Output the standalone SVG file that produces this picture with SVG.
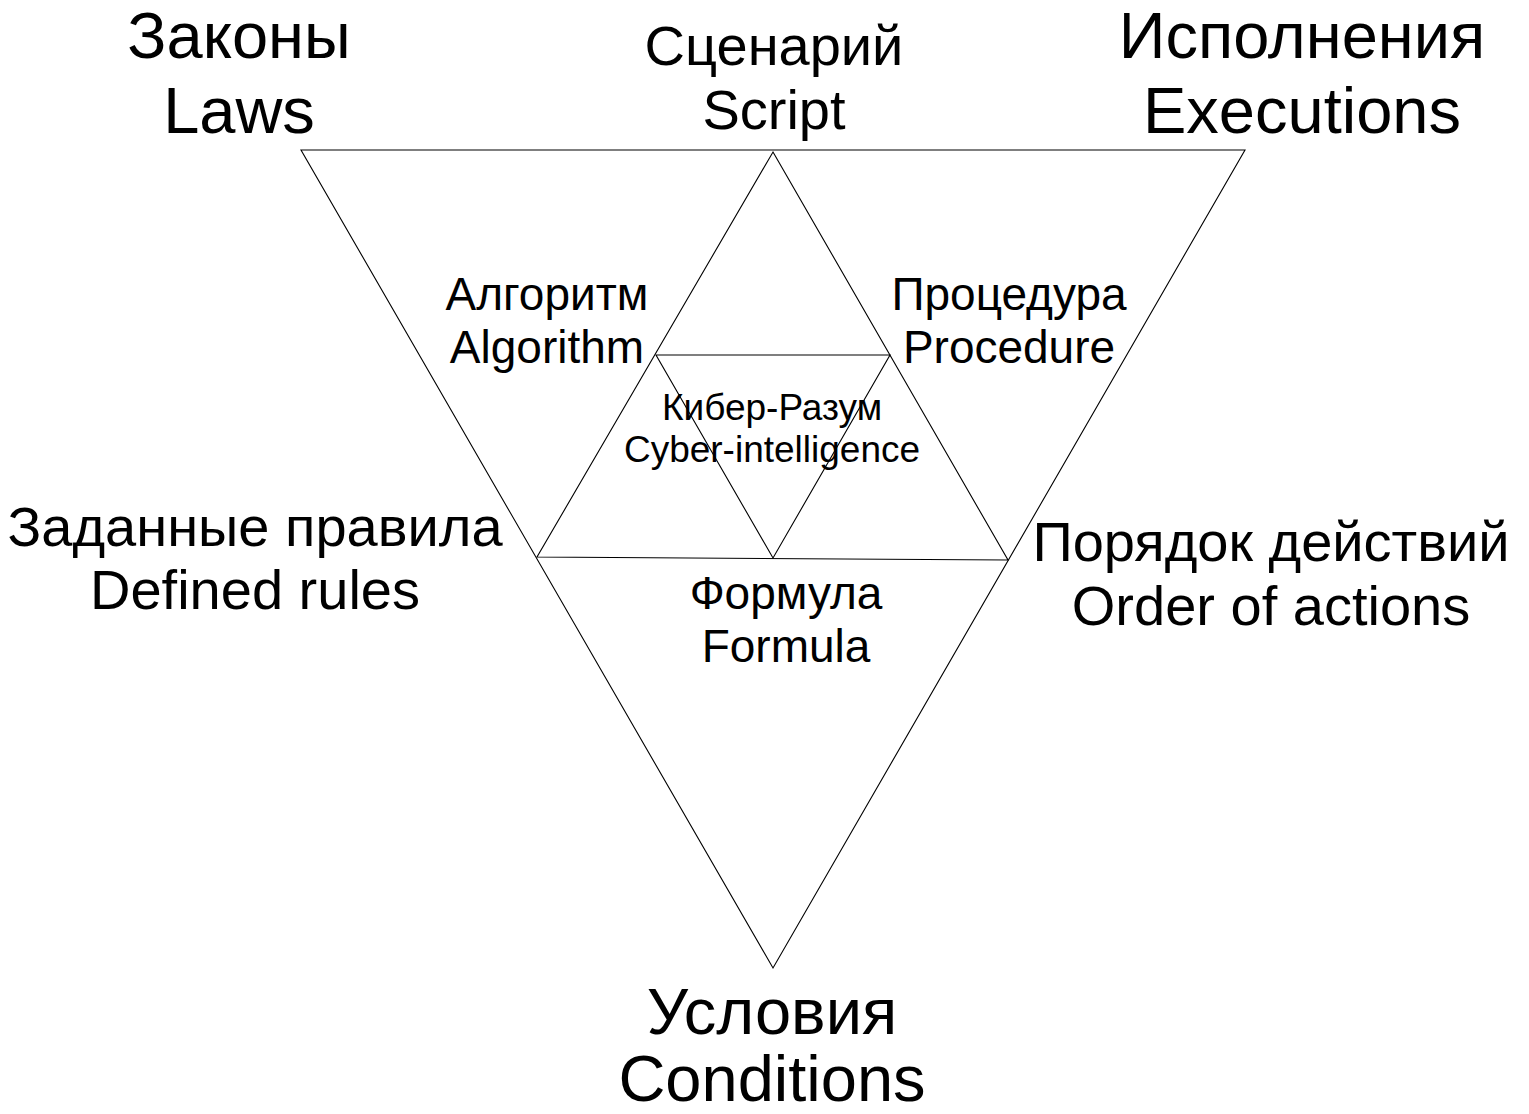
<svg xmlns="http://www.w3.org/2000/svg" width="1529" height="1114" viewBox="0 0 1529 1114">
<style>
.tri{fill:none;stroke:#000;stroke-width:1.1;stroke-linejoin:miter}
text{font-family:"Liberation Sans",Arial,sans-serif;fill:#000;text-anchor:middle}
.xl{font-size:65px}
.l{font-size:56px}
.m{font-size:46px}
.s{font-size:37px}
</style>
<rect width="1529" height="1114" fill="#fff"/>
<g id="connectors">
<polygon id="outer" class="tri" points="301,150 1245,150 773,968"/>
<polygon id="middle" class="tri" points="773,152 1008,560 537,557"/>
<polygon id="inner" class="tri" points="656,355 890,355 773,558"/>
</g>
<g id="laws"><text class="xl" x="239" y="58">Законы</text><text class="xl" x="239" y="133">Laws</text></g>
<g id="script"><text class="l" x="774" y="65">Сценарий</text><text class="l" x="774" y="129">Script</text></g>
<g id="executions"><text class="xl" x="1302" y="58">Исполнения</text><text class="xl" x="1302" y="133">Executions</text></g>
<g id="algorithm"><text class="m" x="547" y="310">Алгоритм</text><text class="m" x="547" y="363">Algorithm</text></g>
<g id="procedure"><text class="m" x="1009" y="310">Процедура</text><text class="m" x="1009" y="363">Procedure</text></g>
<g id="cyber"><text class="s" x="772" y="420">Кибер-Разум</text><text class="s" x="772" y="462">Cyber-intelligence</text></g>
<g id="rules"><text class="l" x="255" y="546">Заданные правила</text><text class="l" x="255" y="609">Defined rules</text></g>
<g id="order"><text class="l" x="1271" y="561">Порядок действий</text><text class="l" x="1271" y="625">Order of actions</text></g>
<g id="formula"><text class="m" x="786" y="609">Формула</text><text class="m" x="786" y="662">Formula</text></g>
<g id="conditions"><text class="xl" x="772" y="1034">Условия</text><text class="xl" x="772" y="1101">Conditions</text></g>
</svg>
